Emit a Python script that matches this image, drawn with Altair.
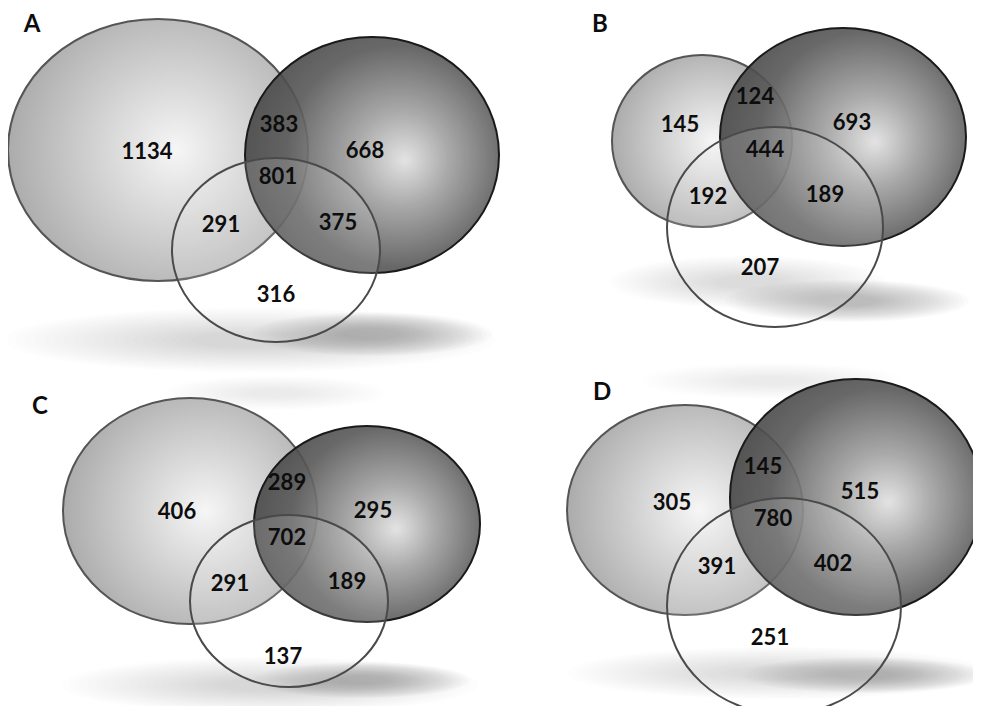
import altair as alt
import pandas as pd

# ---------------- data ----------------
panel_letters = ["A", "B", "C", "D"]
regions = ["light only", "light+dark", "dark only", "all three",
           "light+white", "dark+white", "white only"]
counts_A = [1134, 383, 668, 801, 291, 375, 316]
counts_B = [145, 124, 693, 444, 192, 189, 207]
counts_C = [406, 289, 295, 702, 291, 189, 137]
counts_D = [305, 145, 515, 780, 391, 402, 251]
counts = {"A": counts_A, "B": counts_B, "C": counts_C, "D": counts_D}

# ---------------- layout (pixel positions in the picture) ----------------
label_pos = {"A": (32, 25), "B": (600, 25), "C": (40, 407), "D": (602, 393)}
count_pos = {
    "A": [(147, 152), (279, 125), (365, 151), (278, 177), (221, 225), (338, 223), (276, 295)],
    "B": [(680, 125), (755, 97), (852, 123), (765, 150), (708, 197), (825, 195), (760, 268)],
    "C": [(177, 512), (287, 483), (373, 511), (287, 538), (230, 584), (347, 582), (283, 657)],
    "D": [(672, 503), (763, 467), (860, 492), (773, 519), (717, 567), (833, 564), (770, 638)],
}
# (cx, cy, rx, ry)
ellipses = {
    "A": {"light": (158, 150, 150, 131), "dark": (372, 155, 127, 118), "white": (276, 250, 104, 92)},
    "B": {"light": (702, 141, 90, 86), "dark": (843, 137, 123, 109), "white": (775, 227, 108, 100)},
    "C": {"light": (190, 511, 127, 113), "dark": (367, 524, 113, 98), "white": (289, 601, 99, 86)},
    "D": {"light": (685, 510, 118, 105), "dark": (856, 497, 126, 118), "white": (784, 606, 117, 108)},
}
# soft shadows (cx, cy, rx, ry, strength)
shadows = [
    (250, 340, 245, 32, 0.55), (372, 334, 120, 22, 0.85),
    (748, 282, 138, 26, 0.55), (847, 301, 122, 21, 0.85),
    (275, 393, 112, 17, 0.35), (772, 381, 132, 18, 0.35),
    (270, 685, 208, 28, 0.55), (362, 680, 108, 18, 0.85),
    (780, 673, 212, 26, 0.55), (865, 675, 122, 18, 0.85),
]
blur_steps = [1.0 - 0.04 * i for i in range(20)]


def ell_row(cx, cy, rx, ry, extra=None):
    k = ry / rx
    path = f"M-1,0A1,{k:.4f},0,1,1,1,0A1,{k:.4f},0,1,1,-1,0Z"
    row = {"x": cx, "y": cy, "size": (2 * rx) ** 2, "shape": path}
    if extra:
        row.update(extra)
    return row


def ell_df(kind):
    return pd.DataFrame([ell_row(*ellipses[p][kind], {"panel": p}) for p in panel_letters])


shadow_rows = []
for cx, cy, rx, ry, st in shadows:
    for f in blur_steps:
        shadow_rows.append(ell_row(cx, cy, rx * f, ry * f, {"op": 0.036 * st}))
shadow_df = pd.DataFrame(shadow_rows)

num_rows = []
for p in panel_letters:
    for r, c, (x, y) in zip(regions, counts[p], count_pos[p]):
        num_rows.append({"panel": p, "region": r, "count": str(c), "x": x, "y": y})
num_df = pd.DataFrame(num_rows)
lab_df = pd.DataFrame([{"label": p, "x": label_pos[p][0], "y": label_pos[p][1]} for p in panel_letters])

X = alt.X("x:Q", scale=alt.Scale(domain=[8, 973], nice=False, zero=False), axis=None)
Y = alt.Y("y:Q", scale=alt.Scale(domain=[8, 706], nice=False, zero=False, reverse=True), axis=None)
S = alt.Size("size:Q", scale=None, legend=None)
SH = alt.Shape("shape:N", scale=None, legend=None)

light_grad = alt.RadialGradient(
    gradient="radial", x1=0.56, y1=0.5, r1=0, x2=0.55, y2=0.5, r2=0.62,
    stops=[alt.GradientStop(offset=0, color="#f6f6f6"),
           alt.GradientStop(offset=0.55, color="#c8c8c8"),
           alt.GradientStop(offset=1, color="#a2a2a2")])
dark_grad = alt.RadialGradient(
    gradient="radial", x1=0.63, y1=0.52, r1=0, x2=0.58, y2=0.5, r2=0.62,
    stops=[alt.GradientStop(offset=0, color="#e0e0e0"),
           alt.GradientStop(offset=0.3, color="#a0a0a0"),
           alt.GradientStop(offset=0.7, color="#585858"),
           alt.GradientStop(offset=1, color="#424242")])

shadow_layer = alt.Chart(shadow_df).mark_point(
    filled=True, fill="#8c8c8c", strokeWidth=0
).encode(x=X, y=Y, size=S, shape=SH, opacity=alt.Opacity("op:Q", scale=None, legend=None))

light_layer = alt.Chart(ell_df("light")).mark_point(
    filled=True, fill=light_grad, stroke="#555555", strokeWidth=2, opacity=1
).encode(x=X, y=Y, size=S, shape=SH)

dark_layer = alt.Chart(ell_df("dark")).mark_point(
    filled=True, fill=dark_grad, fillOpacity=0.9, stroke="#1a1a1a", strokeWidth=2, opacity=1
).encode(x=X, y=Y, size=S, shape=SH)

white_layer = alt.Chart(ell_df("white")).mark_point(
    filled=True, fill="#ffffff", fillOpacity=0.14, stroke="#4a4a4a", strokeWidth=2, opacity=1
).encode(x=X, y=Y, size=S, shape=SH)

num_layer = alt.Chart(num_df).mark_text(
    font="Lato", fontWeight="bold", fontSize=22, color="#0d0d0d", baseline="middle", align="center"
).encode(x=X, y=Y, text="count:N")

lab_layer = alt.Chart(lab_df).mark_text(
    font="Lato", fontWeight="bold", fontSize=24, color="#0d0d0d", baseline="middle", align="center"
).encode(x=X, y=Y, text="label:N")

chart = alt.layer(
    shadow_layer, light_layer, dark_layer, white_layer, num_layer, lab_layer
).properties(
    width=965, height=698, padding=0,
    autosize=alt.AutoSizeParams(type="none"),
    background="#ffffff",
).configure_view(stroke=None)

chart.save("out.html", embed_options={"renderer": "svg", "actions": False})
